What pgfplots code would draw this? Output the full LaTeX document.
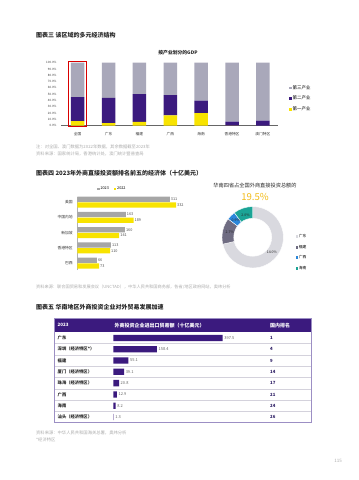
\documentclass[border=0pt]{standalone}
\usepackage{fontspec}
\setmainfont{Noto Sans CJK SC}
\usepackage{pgfplots}
\pgfplotsset{compat=1.18}
\newcommand\fs[1]{\fontsize{#1}{#1}\selectfont}
\definecolor{owpurple}{HTML}{3B1A7E}
\definecolor{owyellow}{HTML}{F8E300}
\definecolor{owgrey}{HTML}{A9A8BA}
\definecolor{bargrey}{HTML}{A6A6A6}
\definecolor{notegrey}{HTML}{ABABAB}
\definecolor{gold}{HTML}{F2BC1B}
\definecolor{dgd}{HTML}{D9D9DF}
\definecolor{dfj}{HTML}{6F6C82}
\definecolor{dgx}{HTML}{2B87DA}
\definecolor{dhn}{HTML}{1BA496}
\definecolor{titlec}{HTML}{262626}
\definecolor{tblline}{HTML}{D4D2DC}
\definecolor{tblborder}{HTML}{9C8FC4}
\definecolor{rankc}{HTML}{2B1B63}
\newcommand\seg[3]{\fill[#3,draw=white,line width=0.4pt] ([shift={(#1:30.7pt)}]axis cs:0,0) arc[start angle=#1,end angle=#2,radius=30.7pt] -- ([shift={(#2:19pt)}]axis cs:0,0) arc[start angle=#2,end angle=#1,radius=19pt] -- cycle;}
\begin{document}
\begin{tikzpicture}[x=1pt,y=1pt]
\path (0pt,0pt) rectangle (359pt,480pt);
% ---------------- Figure 3 ----------------
\node[anchor=west,font=\fs{6}\bfseries,text=titlec,inner sep=0pt] at (36pt,445pt) {图表三\ 该区域的多元经济结构};
\node[font=\fs{4.8}\bfseries,text=titlec,inner sep=0pt] at (178pt,427pt) {按产业划分的GDP};
\begin{axis}[at={(61pt,354.3pt)},anchor=south west,scale only axis,width=217pt,height=63pt,
  ybar stacked,bar width=13.5pt,
  xmin=-0.54,xmax=6.49,ymin=0,ymax=100,
  axis x line*=bottom, axis y line*=left,
  x axis line style={draw=black!60,line width=0.5pt,-},
  y axis line style={draw=none},
  major tick length=0pt,
  xtick={0,...,6},xticklabels={全国,广东,福建,广西,海南,香港特区,澳门特区},
  xticklabel style={font=\fs{3.7},text=black!80,yshift=-3.5pt},
  ytick={0,10,...,100},
  yticklabel={\pgfmathprintnumber[fixed,fixed zerofill,precision=1]{\tick}\%},
  yticklabel style={font=\fs{3},text=black!75,xshift=-1pt},
  /pgf/number format/assume math mode=true,
  clip=false,
  reverse legend,
  legend style={at={(1.05,0.66)},anchor=north west,draw=none,fill=none,font=\fs{4.5},row sep=3.5pt,inner sep=0pt,nodes={inner sep=1pt}},
  legend cell align=left,
  legend image code/.code={\fill[#1] (0pt,-1.3pt) rectangle (2.6pt,1.3pt);},
]
\addplot[fill=owyellow,draw=none] coordinates {(0,7.1) (1,4.1) (2,5.9) (3,16.2) (4,19.8) (5,0.1) (6,0.0)};
\addlegendentry{第一产业}
\addplot[fill=owpurple,draw=none] coordinates {(0,38.3) (1,40.1) (2,44.1) (3,32.5) (4,19.9) (5,6.2) (6,7.9)};
\addlegendentry{第二产业}
\addplot[fill=owgrey,draw=none] coordinates {(0,54.6) (1,55.8) (2,50.0) (3,51.3) (4,60.3) (5,93.7) (6,92.1)};
\addlegendentry{第三产业}
\draw[red!85!black,line width=0.9pt] (axis cs:-0.29,-0.8) rectangle (axis cs:0.28,102.3);
\end{axis}
\node[anchor=west,font=\fs{4.3},text=notegrey,inner sep=0pt] at (36pt,333.3pt) {注：对全国、澳门数据为2022年数据，其余数据截至2023年};
\node[anchor=west,font=\fs{4.3},text=notegrey,inner sep=0pt] at (36pt,326pt) {资料来源：国家统计局，香港统计处，澳门统计暨普查局};
% ---------------- Figure 4 ----------------
\node[anchor=west,font=\fs{6}\bfseries,text=titlec,inner sep=0pt] at (36pt,306.5pt) {图表四\ 2023年外商直接投资额排名前五的经济体（十亿美元）};
\begin{axis}[at={(77.3pt,209.94pt)},anchor=south west,scale only axis,width=104.1pt,height=73.5pt,
  xbar,bar width=5.3pt,xmin=0,xmax=350,ymin=-0.45,ymax=4.37,
  axis x line=none, axis y line*=left,
  y axis line style={draw=black!30,line width=0.5pt,-},
  major tick length=0pt,
  ytick={0,...,4},yticklabels={巴西,香港特区,新加坡,中国内地,美国},
  yticklabel style={font=\fs{3.8},text=black!80,xshift=-1pt},
  nodes near coords,
  nodes near coords style={font=\fs{3.8},text=black!70,inner sep=1pt},
  /pgf/number format/assume math mode=true,
  clip=false,
  legend columns=2,
  legend style={at={(0.333,1.10)},anchor=center,draw=none,fill=none,font=\fs{3.8},inner sep=0pt,nodes={inner sep=1pt},/tikz/every even column/.append style={column sep=4pt}},
  legend image code/.code={\fill[#1] (0pt,-1.1pt) rectangle (2.2pt,1.1pt);},
]
\addplot[fill=bargrey,draw=none,bar shift=2.85pt] coordinates {(66,0) (113,1) (160,2) (163,3) (311,4)};
\addlegendentry{2023}
\addplot[fill=owyellow,draw=none,bar shift=-2.85pt] coordinates {(73,0) (110,1) (141,2) (189,3) (332,4)};
\addlegendentry{2022}
\end{axis}
% donut
\pgfmathsetmacro\tot{14.0+2.7+0.9+2.0}
\pgfmathsetmacro\aA{90}
\pgfmathsetmacro\aB{\aA-360*14.0/\tot}
\pgfmathsetmacro\aC{\aB-360*2.7/\tot}
\pgfmathsetmacro\aD{\aC-360*0.9/\tot}
\pgfmathsetmacro\aE{\aD-360*2.0/\tot}
\pgfmathsetmacro\mA{(\aA+\aB)/2}
\pgfmathsetmacro\mB{(\aB+\aC)/2}
\pgfmathsetmacro\mC{(\aC+\aD)/2}
\pgfmathsetmacro\mD{(\aD+\aE)/2}
\node[font=\fs{5.2},text=titlec,inner sep=0pt] at (255pt,294pt) {华南四省占全国外商直接投资总额的};
\node[font=\fs{9.6},text=gold,inner sep=0pt] at (255pt,283.5pt) {19.5\%};
\begin{axis}[at={(252.7pt,242.7pt)},anchor=center,scale only axis,width=61.4pt,height=61.4pt,
  xmin=-1,xmax=1,ymin=-1,ymax=1,hide axis,clip=false,
  legend style={at={(1.197,0.56)},anchor=north west,draw=none,fill=none,font=\fs{3.8},row sep=4.6pt,inner sep=0pt,nodes={inner sep=0.6pt}},
  legend cell align=left,
  legend image code/.code={\fill[#1] (0pt,-1.3pt) rectangle (2.6pt,1.3pt);},
]
\seg{\aA}{\aB}{dgd}
\seg{\aB}{\aC}{dfj}
\seg{\aC}{\aD}{dgx}
\seg{\aD}{\aE}{dhn}
\node[font=\fs{3.5},text=black!85,inner sep=0pt] at ([shift={(\mA:24.5pt)}]axis cs:0,0) {14.0\%};
\node[font=\fs{3.5},text=black!85,inner sep=0pt] at ([shift={(\mB:23.5pt)}]axis cs:0,0) {2.7\%};
\node[font=\fs{3.5},text=black!85,inner sep=0pt] at ([shift={(\mC:24pt)}]axis cs:0,0) {0.9\%};
\node[font=\fs{3.5},text=black!85,inner sep=0pt] at ([shift={(\mD:23pt)}]axis cs:0,0) {2.0\%};
\addlegendimage{fill=dgd,draw=none}\addlegendentry{广东}
\addlegendimage{fill=dfj,draw=none}\addlegendentry{福建}
\addlegendimage{fill=dgx,draw=none}\addlegendentry{广西}
\addlegendimage{fill=dhn,draw=none}\addlegendentry{海南}
\end{axis}
\node[anchor=west,font=\fs{4.2},text=notegrey,inner sep=0pt] at (36pt,192.5pt) {资料来源：联合国贸易和发展会议（UNCTAD），中华人民共和国商务部，各省/地区政府网站，奥纬分析};
% ---------------- Figure 5 ----------------
\node[anchor=west,font=\fs{6}\bfseries,text=titlec,inner sep=0pt] at (36pt,172.3pt) {图表五\ 华南地区外商投资企业对外贸易发展加速};
\fill[owpurple] (54.3pt,147.7pt) rectangle (311.7pt,161.7pt);
\foreach \k in {1,...,7} {\draw[tblline,line width=0.5pt] (54.3pt,{(147.7-11.3*\k)*1pt}) -- (311.7pt,{(147.7-11.3*\k)*1pt});}
\draw[tblborder,line width=0.6pt] (54.3pt,161.7pt) rectangle (311.7pt,57.3pt);
\node[anchor=west,font=\fs{4.5}\bfseries,text=white,inner sep=0pt] at (57.5pt,154.7pt) {2023};
\node[anchor=west,font=\fs{5}\bfseries,text=white,inner sep=0pt] at (114.3pt,154.7pt) {外商投资企业进出口贸易额（十亿美元）};
\node[anchor=west,font=\fs{5}\bfseries,text=white,inner sep=0pt] at (270pt,154.7pt) {国内排名};
\foreach \k/\t/\r in {0/广东/1,1/深圳（经济特区*）/4,2/福建/9,3/厦门（经济特区）/14,4/珠海（经济特区）/17,5/广西/21,6/海南/24,7/汕头（经济特区）/26} {
  \node[anchor=west,font=\fs{4.3}\bfseries,text=titlec,inner sep=0pt] at (57.5pt,{(142.05-11.3*\k)*1pt}) {\t};
  \node[anchor=west,font=\fs{4.3}\bfseries,text=rankc,inner sep=0pt] at (270pt,{(142.05-11.3*\k)*1pt}) {\r};
}
\begin{axis}[at={(113.3pt,57.3pt)},anchor=south west,scale only axis,width=165.1pt,height=90.4pt,
  xbar,bar width=6.3pt,xmin=0,xmax=600,ymin=-7.5,ymax=0.5,hide axis,clip=false,
  nodes near coords,
  nodes near coords style={font=\fs{4},text=black!60,inner sep=1.5pt},
  /pgf/number format/assume math mode=true,
]
\addplot[fill=owpurple,draw=none] coordinates {(397.5,0) (158.4,-1) (55.1,-2) (39.1,-3) (20.8,-4) (12.9,-5) (8.2,-6) (1.3,-7)};
\end{axis}
\node[anchor=west,font=\fs{4.3},text=notegrey,inner sep=0pt] at (36pt,46.7pt) {资料来源：中华人民共和国海关总署，奥纬分析};
\node[anchor=west,font=\fs{4.3},text=notegrey,inner sep=0pt] at (36pt,39.7pt) {*经济特区};
\node[font=\fs{4.5},text=notegrey,inner sep=0pt] at (338pt,19pt) {115};
\end{tikzpicture}
\end{document}
